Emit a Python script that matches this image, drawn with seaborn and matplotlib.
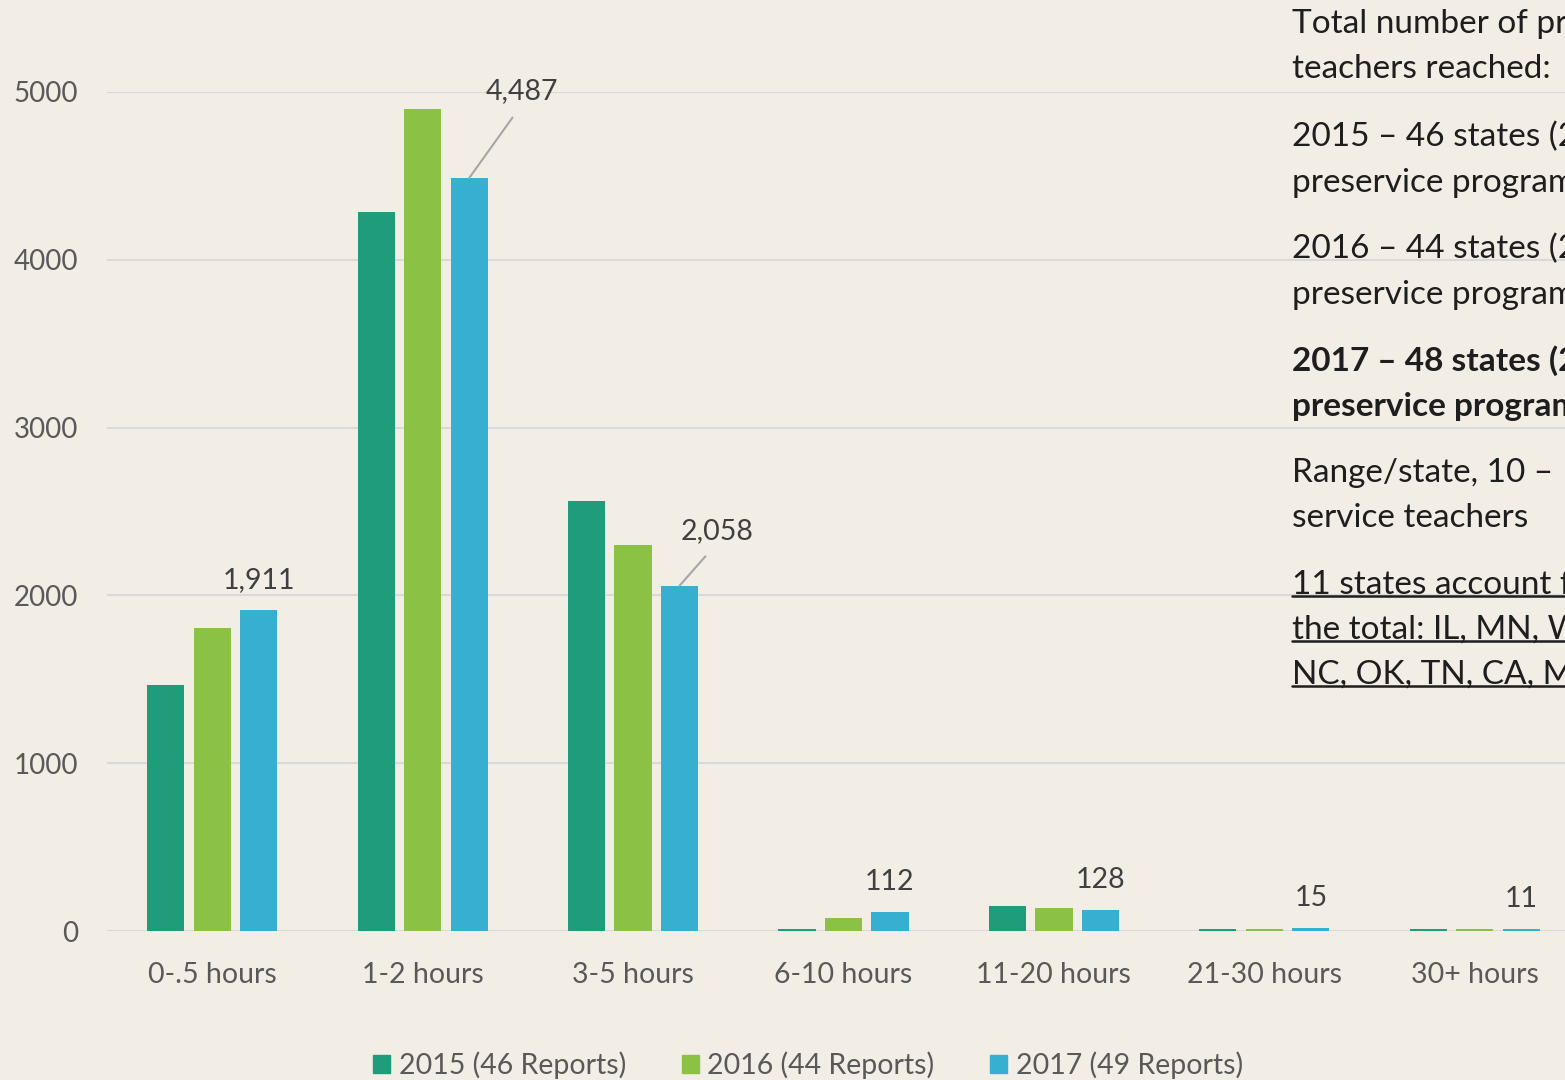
import matplotlib
matplotlib.use("Agg")
import matplotlib.pyplot as plt
import seaborn as sns
import pandas as pd
from matplotlib.lines import Line2D

# data
categories = ["0-.5 hours", "1-2 hours", "3-5 hours", "6-10 hours",
              "11-20 hours", "21-30 hours", "30+ hours"]
series = ["2015 (46 Reports)", "2016 (44 Reports)", "2017 (49 Reports)"]
vals_2015 = [1466, 4285, 2563, 12, 149, 14, 13]
vals_2016 = [1806, 4899, 2300, 78, 137, 12, 9]
vals_2017 = [1911, 4487, 2058, 112, 128, 15, 11]
colors = ["#1f9c7a", "#8bc145", "#36afd0"]

side_lines = [
    ("Total number of preservice", "normal", False),
    ("teachers reached:", "normal", False),
    ("2015 – 46 states (2", "normal", False),
    ("preservice programs)", "normal", False),
    ("2016 – 44 states (2", "normal", False),
    ("preservice programs)", "normal", False),
    ("2017 – 48 states (2", "bold", False),
    ("preservice programs)", "bold", False),
    ("Range/state, 10 – ", "normal", False),
    ("service teachers", "normal", False),
    ("11 states account for", "normal", True),
    ("the total: IL, MN, WI,", "normal", True),
    ("NC, OK, TN, CA, MI", "normal", True),
]
side_y = [24, 69, 137, 182, 249, 294, 361, 406, 473, 518, 585, 630, 675]

df = pd.DataFrame({
    "category": categories * 3,
    "series": [series[0]] * 7 + [series[1]] * 7 + [series[2]] * 7,
    "value": vals_2015 + vals_2016 + vals_2017,
})

sns.set_style("white")
plt.rcParams["font.family"] = ["Lato", "DejaVu Sans"]

bg = "#f2eee6"
W, H = 1565, 1080
fig = plt.figure(figsize=(15.65, 10.8), dpi=100, facecolor=bg)
ax = fig.add_axes([107 / W, 1 - 931 / H, (1580 - 107) / W, (931 - 92) / H])
ax.set_facecolor(bg)

sns.barplot(data=df, x="category", y="value", hue="series", order=categories,
            hue_order=series, palette=colors, width=0.663, gap=0.2,
            saturation=1, errorbar=None, ax=ax, legend=False, zorder=3,
            linewidth=0, edgecolor="none")

ax.set_ylim(0, 5000)
ax.set_xlim(-0.5, 6.5)
ax.set_yticks([0, 1000, 2000, 3000, 4000, 5000])
ax.yaxis.grid(True, color="#d9d9d9", linewidth=1.5, zorder=0)
ax.set_axisbelow(True)
for s in ax.spines.values():
    s.set_visible(False)
ax.set_xlabel("")
ax.set_ylabel("")
ax.tick_params(axis="y", length=0, pad=21, labelsize=20, labelcolor="#595959")
ax.tick_params(axis="x", length=0, pad=22, labelsize=20.5, labelcolor="#595959")

# data labels for the 2017 series
offsets = {1: (53, 87), 2: (37, 55)}
for i, bar in enumerate(ax.containers[2]):
    v = vals_2017[i]
    x = bar.get_x() + bar.get_width() / 2
    y = bar.get_height()
    if i in offsets:
        dx, dy = offsets[i]
        ax.annotate(f"{v:,}", (x, y), xytext=(dx, dy), textcoords="offset pixels",
                    ha="center", va="center", fontsize=20.5, color="#404040",
                    arrowprops=dict(arrowstyle="-", color="#a6a6a6", lw=1.5,
                                    shrinkA=9, shrinkB=0, relpos=(0.5, 0)),
                    annotation_clip=False)
    else:
        ax.annotate(f"{v:,}", (x, y), xytext=(0, 30), textcoords="offset pixels",
                    ha="center", va="center", fontsize=20.5, color="#404040",
                    annotation_clip=False)

handles = [plt.Rectangle((0, 0), 1, 1, color=c) for c in colors]
fig.legend(handles, series, loc="center", bbox_to_anchor=(808 / W, 1 - 1065 / H),
           ncol=3, frameon=False, fontsize=20.5, labelcolor="#595959",
           handlelength=0.6, handleheight=0.6, handletextpad=0.3,
           columnspacing=1.95)

# side text block
texts = []
for (line, weight, under), y in zip(side_lines, side_y):
    t = fig.text(1292 / W, 1 - y / H, line, ha="left", va="center",
                 fontsize=24, fontweight=weight, color="#1e1e1e")
    texts.append((t, under))

fig.canvas.draw()
renderer = fig.canvas.get_renderer()
for t, under in texts:
    if under:
        bb = t.get_window_extent(renderer)
        yl = (bb.y0 + 4) / H
        fig.add_artist(Line2D([bb.x0 / W, bb.x1 / W], [yl, yl],
                              color="#1e1e1e", lw=1.8))

fig.savefig("out.png", dpi=100, facecolor=bg)
